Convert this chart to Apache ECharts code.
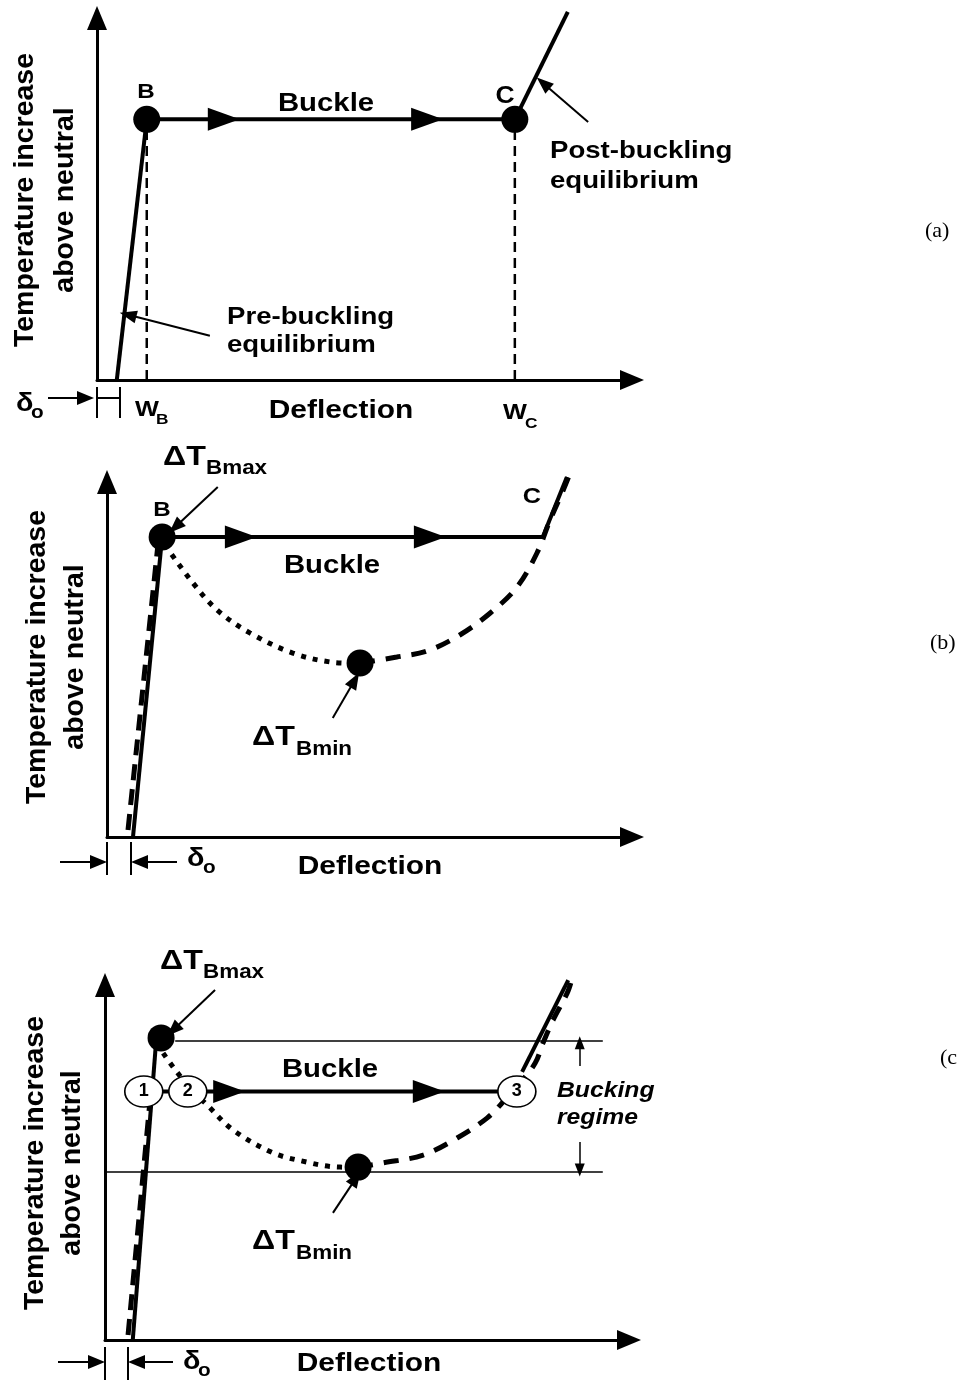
<!DOCTYPE html>
<html>
<head>
<meta charset="utf-8">
<script src="https://cdn.jsdelivr.net/npm/echarts@6/dist/echarts.min.js"></script>
<style>
html,body{margin:0;padding:0;background:#fff;}
#chart{width:966px;height:1384px;}
</style>
</head>
<body>
<div id="chart"></div>
<script>
// ---------------- DATA (schematic units: deflection 0..100, temperature 0..100) ----------------
// Panel (a)
const a_pre      = [[3.7, 0], [9.3, 72]];
const a_buckle   = [[9.3, 72], [78.1, 72]];
const a_post     = [[78.1, 72], [88.0, 101.7]];
const a_wB       = [[9.3, 0], [9.3, 72]];
const a_wC       = [[78.1, 0], [78.1, 72]];
const a_arrowX   = [23.7, 61.7];
const a_points   = [[9.3, 72], [78.1, 72]];
const a_pointers = [[[21.1, 12.2], [5.8, 18.0]], [[91.8, 71.3], [83.4, 82.0]]];

// Panel (b)
const b_preSolid  = [[4.95, 0], [10.5, 84.5]];
const b_preDashed = [[4.0, 2.0], [9.7, 82.3]];
const b_buckle    = [[10.5, 84.5], [83.0, 84.5]];
const b_post      = [[83.0, 84.5], [87.6, 101.4]];
const b_unstable  = [[11.0, 82.3], [16.4, 71.5], [21.0, 63.9], [27.2, 57.5], [35.4, 51.8], [42.5, 49.3], [47.8, 48.9]];
const b_stable    = [[48.2, 49.0], [55.2, 50.7], [61.0, 52.4], [67.2, 56.9], [73.0, 63.1], [78.1, 70.4], [81.9, 80.0], [84.4, 89.3], [86.9, 97.7], [88.0, 101.7]];
const b_arrowX    = [25.5, 61.5];
const b_points    = [[10.5, 84.5], [48.2, 49.0]];
const b_pointers  = [[[21.1, 98.6], [13.0, 87.3]], [[43.0, 33.5], [47.2, 44.2]]];

// Panel (c)
const c_preSolid  = [[5.3, 0], [9.7, 83.1]];
const c_preDashed = [[4.4, 1.4], [8.6, 67.6]];
const c_buckle    = [[7.4, 70], [78.6, 70]];
const c_post      = [[79.6, 75.5], [88.4, 101.4]];
const c_unstable  = [[11.1, 80.8], [13.0, 76.9], [16.2, 71.0], [19.5, 66.2], [24.4, 59.2], [32.1, 52.7], [38.5, 50.1], [42.9, 48.9], [47.9, 48.6]];
const c_stable    = [[48.3, 48.7], [53.1, 49.9], [60.7, 52.1], [67.2, 56.9], [72.9, 62.5], [76.3, 67.6], [79.2, 72.4], [82.1, 78.0], [83.6, 83.7], [85.5, 90.1], [88.2, 97.7], [88.9, 100.6]];
const c_levelTop  = [[13.4, 84.2], [95.0, 84.2]];
const c_levelBot  = [[0, 47.3], [95.0, 47.3]];
const c_arrowX    = [23.7, 61.8];
const c_points    = [[10.7, 85.1], [48.3, 48.7]];
const c_states    = [[7.4, 70], [15.8, 70], [78.6, 70]];
const c_stateLabels = ['1', '2', '3'];
const c_pointers  = [[[21.0, 98.6], [13.0, 87.3]], [[43.5, 35.8], [47.9, 45.6]]];
const c_regime    = [[[90.6, 77.2], [90.6, 83.7]], [[90.6, 55.8], [90.6, 47.9]]];

// Text
const yTitle = ['Temperature increase', 'above neutral'];
const xTitle = 'Deflection';

// ---------------- helpers ----------------
const FONT = '"Liberation Sans", Arial, sans-serif';
const SX = 1.15;
function axisX(gi) {
  return { type: 'value', gridIndex: gi, min: 0, max: 100,
    axisLine: { show: true, onZero: true, lineStyle: { color: '#000', width: 3 }, symbol: ['none', 'triangle'], symbolSize: [20, 24] },
    axisTick: { show: false }, axisLabel: { show: false }, splitLine: { show: false } };
}
function axisY(gi) { return axisX(gi); }
function line(gi, data, width, type, extra) {
  return Object.assign({ type: 'line', xAxisIndex: gi, yAxisIndex: gi, data: data, symbol: 'none', clip: false,
    silent: true, animation: false,
    lineStyle: { color: '#000', width: width, type: type || 'solid', cap: 'butt', opacity: 1 } }, extra || {});
}
function heads(gi, xs, y) {
  return { type: 'scatter', xAxisIndex: gi, yAxisIndex: gi, silent: true, animation: false, clip: false,
    data: xs.map(x => [x, y]), symbol: 'triangle', symbolRotate: -90, symbolSize: [23, 32],
    itemStyle: { color: '#000', opacity: 1 }, z: 4 };
}
function dots(gi, pts) {
  return { type: 'scatter', xAxisIndex: gi, yAxisIndex: gi, silent: true, animation: false, clip: false,
    data: pts, symbol: 'circle', symbolSize: 27, itemStyle: { color: '#000', opacity: 1 }, z: 5 };
}
function pointers(gi, pairs, size, width) {
  return { type: 'line', xAxisIndex: gi, yAxisIndex: gi, data: [], silent: true, animation: false, clip: false,
    markLine: { silent: true, animation: false, symbol: ['none', 'triangle'], symbolSize: size || [13, 17],
      label: { show: false }, emphasis: { disabled: true },
      lineStyle: { color: '#000', width: width || 2, type: 'solid', opacity: 1 },
      data: pairs.map(p => [{ coord: p[0] }, { coord: p[1] }]) } };
}
function txt(text, x, y, size, o) {
  o = o || {};
  return { type: 'text', x: x, y: y, rotation: o.rot || 0, scaleX: o.sx == null ? SX : o.sx, z: 100, silent: true,
    style: { text: text, fontSize: size, fontWeight: o.weight || 'bold', fontStyle: o.italic ? 'italic' : 'normal',
      fontFamily: o.family || FONT, fill: '#000', align: o.align || 'center', verticalAlign: 'middle' } };
}
function seg(x1, y1, x2, y2, w) {
  return { type: 'line', silent: true, z: 100, shape: { x1, y1, x2, y2 }, style: { stroke: '#000', lineWidth: w || 2 } };
}
function harrow(x1, x2, y) { // horizontal arrow, tip at x2
  const d = x2 > x1 ? 1 : -1, hl = 17, hw = 7;
  return [seg(x1, y, x2 - d * hl, y, 2),
    { type: 'polygon', silent: true, z: 100, shape: { points: [[x2, y], [x2 - d * hl, y - hw], [x2 - d * hl, y + hw]] }, style: { fill: '#000' } }];
}
function yTitleText(cx1, cx2, cy) {
  return [txt(yTitle[0], cx1, cy, 28.5, { rot: Math.PI / 2, sx: 1 }), txt(yTitle[1], cx2, cy, 28.5, { rot: Math.PI / 2, sx: 1 })];
}
function sub(main, x, y, mainSize, subText, subSize, dx, dy) {
  return [txt(main, x, y, mainSize, { align: 'left' }), txt(subText, x + dx, y + dy, subSize, { align: 'left' })];
}
const SERIF = '"Liberation Serif", "Times New Roman", serif';

// ---------------- graphics (labels, delta brackets) ----------------
let g = [];
// Panel a
g = g.concat(yTitleText(25, 65, 200));
g.push(txt('B', 146, 92, 21), txt('Buckle', 326, 104, 25.5), txt('C', 505, 97, 23));
g.push(txt('Post-buckling', 550, 151, 24, { align: 'left' }), txt('equilibrium', 550, 181, 24, { align: 'left' }));
g.push(txt('Pre-buckling', 227, 317, 24, { align: 'left' }), txt('equilibrium', 227, 345, 24, { align: 'left' }));
g.push(txt(xTitle, 341, 411, 26));
g = g.concat(sub('W', 135, 410, 22, 'B', 15, 21, 10));
g = g.concat(sub('W', 503, 413, 22, 'C', 15, 22, 11));
g = g.concat(sub('δ', 16, 404, 25, 'o', 18, 15, 9));
g.push(seg(97, 387, 97, 418), seg(120, 387, 120, 418), seg(97, 398, 120, 398));
g = g.concat(harrow(48, 94, 398));
g.push(txt('(a)', 925, 231, 22, { weight: 'normal', family: SERIF, align: 'left', sx: 1 }));

// Panel b
g = g.concat(yTitleText(37, 75, 657));
g = g.concat(sub('ΔT', 163, 457, 28, 'Bmax', 19.5, 43, 12));
g.push(txt('B', 162, 510, 21), txt('Buckle', 332, 566, 25.5), txt('C', 532, 497, 22));
g = g.concat(sub('ΔT', 252, 737, 28, 'Bmin', 19.5, 44, 13));
g.push(txt(xTitle, 370, 867, 26));
g.push(seg(107, 842, 107, 875), seg(131, 842, 131, 875));
g = g.concat(harrow(60, 107, 862), harrow(177, 131, 862));
g = g.concat(sub('δ', 187, 859, 25, 'o', 18, 16, 9));
g.push(txt('(b)', 930, 643, 22, { weight: 'normal', family: SERIF, align: 'left', sx: 1 }));

// Panel c
g = g.concat(yTitleText(35, 72, 1163));
g = g.concat(sub('ΔT', 160, 961, 28, 'Bmax', 19.5, 43, 12));
g.push(txt('Buckle', 330, 1070, 25.5));
g.push(txt('Bucking', 557, 1091, 21.5, { align: 'left', italic: true }), txt('regime', 557, 1118, 21.5, { align: 'left', italic: true }));
g = g.concat(sub('ΔT', 252, 1241, 28, 'Bmin', 19.5, 44, 13));
g.push(txt(xTitle, 369, 1364, 26));
g.push(seg(105, 1347, 105, 1380), seg(128, 1347, 128, 1380));
g = g.concat(harrow(58, 105, 1362), harrow(173, 128, 1362));
g = g.concat(sub('δ', 183, 1362, 25, 'o', 18, 15, 9));
g.push(txt('(c', 940, 1058, 22, { weight: 'normal', family: SERIF, align: 'left', sx: 1 }));

// ---------------- option ----------------
const option = {
  backgroundColor: '#fff',
  animation: false,
  grid: [
    { left: 97, top: 18, width: 535, height: 362 },
    { left: 107, top: 482, width: 525, height: 355 },
    { left: 105, top: 985, width: 524, height: 355 }
  ],
  xAxis: [axisX(0), axisX(1), axisX(2)],
  yAxis: [axisY(0), axisY(1), axisY(2)],
  series: [
    // (a)
    line(0, a_wB, 2.5, [10, 6]),
    line(0, a_wC, 2.5, [10, 6]),
    line(0, a_pre, 4),
    line(0, a_buckle, 4),
    line(0, a_post, 4),
    heads(0, a_arrowX, a_buckle[0][1]),
    dots(0, a_points),
    pointers(0, a_pointers),
    // (b)
    line(1, b_preDashed, 5, [16, 9]),
    line(1, b_preSolid, 4),
    line(1, b_buckle, 4),
    line(1, b_post, 4),
    line(1, b_unstable, 5, [5, 7], { smooth: 0.35 }),
    line(1, b_stable, 5, [15, 11], { smooth: 0.35 }),
    heads(1, b_arrowX, b_buckle[0][1]),
    dots(1, b_points),
    pointers(1, b_pointers),
    // (c)
    line(2, c_levelTop, 1.5),
    line(2, c_levelBot, 1.5),
    line(2, c_preDashed, 5, [16, 9]),
    line(2, c_preSolid, 4),
    line(2, c_buckle, 4),
    line(2, c_post, 4),
    line(2, c_unstable, 5, [5, 7], { smooth: 0.35 }),
    line(2, c_stable, 5, [15, 11], { smooth: 0.35 }),
    heads(2, c_arrowX, c_buckle[0][1]),
    dots(2, c_points),
    pointers(2, c_pointers),
    pointers(2, c_regime, [10, 13], 1.5),
    { type: 'scatter', xAxisIndex: 2, yAxisIndex: 2, silent: true, animation: false, clip: false, z: 6,
      data: c_states.map((p, i) => ({ value: p, name: c_stateLabels[i] })),
      symbol: 'circle', symbolSize: [38, 31],
      itemStyle: { color: '#fff', borderColor: '#000', borderWidth: 1.5, opacity: 1 },
      label: { show: true, position: 'inside', formatter: '{b}', fontSize: 18, fontWeight: 'bold', color: '#000', fontFamily: FONT } }
  ],
  graphic: { elements: g }
};

const chart = echarts.init(document.getElementById('chart'), null, { renderer: 'canvas' });
chart.setOption(option);
</script>
</body>
</html>
